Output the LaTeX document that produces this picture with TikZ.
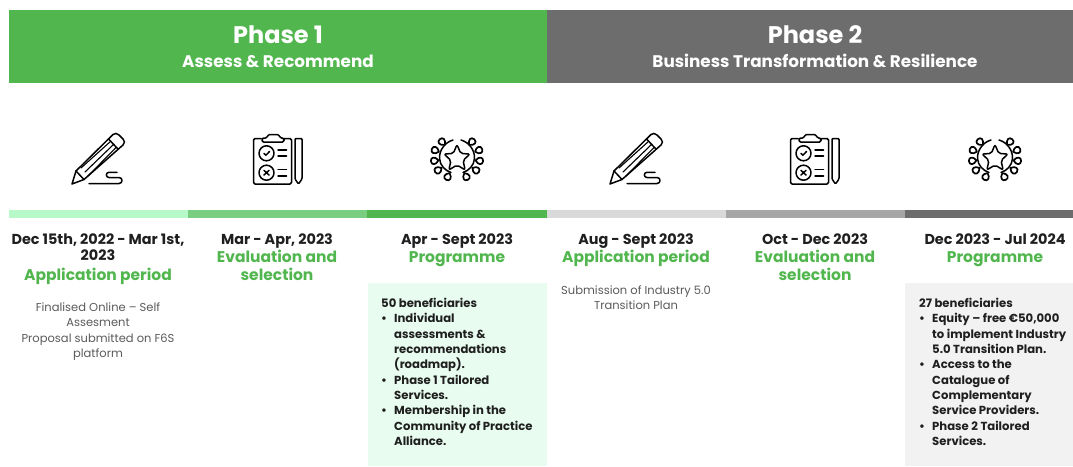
\documentclass[tikz,border=0pt]{standalone}
\usepackage{fontspec}
\setmainfont{Poppins}
\definecolor{gA}{HTML}{52B64F}
\definecolor{grA}{HTML}{6D6D6D}
\definecolor{barA}{HTML}{B7F9C8}
\definecolor{barB}{HTML}{79CE82}
\definecolor{barD}{HTML}{D9D9D9}
\definecolor{barE}{HTML}{A6A6A6}
\definecolor{panelG}{HTML}{E8FCF0}
\definecolor{panelK}{HTML}{F2F2F2}
\definecolor{inkB}{HTML}{1F1F1F}
\definecolor{txtG}{HTML}{5A5A5A}
\newcommand{\bul}{\makebox[13pt][l]{•}}
\tikzset{
  x=1pt,y=-1pt,
  block/.style={anchor=north west,inner sep=0pt,outer sep=0pt,draw=none},
  phasetitle/.style={text=white,font=\fontsize{24}{27}\selectfont\bfseries,inner sep=0pt},
  phasesub/.style={text=white,font=\fontsize{16.8}{20}\selectfont\bfseries,inner sep=0pt},
  datelab/.style={text=inkB,font=\fontsize{14.4}{16.5}\selectfont\bfseries,align=center,inner sep=0pt,anchor=north},
  stagelab/.style={text=gA,font=\fontsize{15.5}{18}\selectfont\bfseries,align=center,inner sep=0pt,anchor=north},
  bodylab/.style={text=txtG,font=\fontsize{11.5}{15.3}\selectfont,align=center,inner sep=0pt,anchor=north},
  panellab/.style={text=inkB,font=\fontsize{11.65}{15.35}\selectfont\bfseries,align=left,inner sep=0pt,anchor=north west},
  icon/.style={line width=1.5pt,draw=black,line join=round,line cap=round},
  pencilicon/.pic={
    \draw[icon] (-26,24) -- (-22,11) -- (15,-25.5) .. controls (17,-27) and (19,-27) .. (21,-25) -- (25,-21) .. controls (27,-19) and (27,-17) .. (25,-15) -- (-14,19.5) -- cycle;
    \draw[icon] (10.5,-21) -- (20,-11);
    \draw[icon] (-22,11) -- (-14,19.5);
    \draw[icon,line width=1.1pt] (-17,8) -- (13,-19) (-13,12) -- (15.5,-15.5) (-10,16) -- (18,-12.5);
    \draw[icon] (-9,23.5) -- (21,23.5) .. controls (25,23.5) and (25,17.5) .. (21,17.5) -- (11,17.5) .. controls (7.5,17.5) and (7.5,12.3) .. (11,12.3) -- (19,12.3);
  },
  clipicon/.pic={
    \draw[icon,rounded corners=1.5pt] (-16,-21.5) -- (-23.5,-21.5) -- (-23.5,24) -- (14.5,24) -- (14.5,-21.5) -- (7,-21.5);
    \draw[icon,fill=white,rounded corners=1.5pt] (-15,-18) -- (-15,-22) -- (-10,-22) -- (-9,-25.5) -- (2,-25.5) -- (3,-22) -- (7,-22) -- (7,-18) -- cycle;
    \draw[icon] (-10.5,-6.7) circle[radius=7.5] (-10.5,12.7) circle[radius=7.5];
    \draw[icon] (-13,-6.5) -- (-11,-4.8) -- (-7.5,-8.5);
    \draw[icon] (-13,10.4) -- (-8,15) (-8,10.4) -- (-13,15);
    \draw[icon] (1,-10) -- (9.5,-10) (1,-4) -- (9.5,-4) (1,9.3) -- (9.5,9.3) (1,16) -- (9.5,16);
    \draw[icon,rounded corners=1pt] (18,-21.5) -- (25,-21.5) -- (25,19) -- (21.5,24) -- (18,19) -- cycle;
  },
  laurelicon/.pic={
    \draw[icon,rounded corners=2pt] (0,-14) -- (3.7,-5) -- (13,-4.5) -- (6,2) -- (8.2,11.5) -- (0,6.5) -- (-8.2,11.5) -- (-6,2) -- (-13,-4.5) -- (-3.7,-5) -- cycle;
    \draw[icon] (-4,-18.5) .. controls (-13,-16) and (-18,-7) .. (-17.5,0) .. controls (-17,7) and (-12,12) .. (-6,14);
    \draw[icon] (4,-18.5) .. controls (13,-16) and (18,-7) .. (17.5,0) .. controls (17,7) and (12,12) .. (6,14);
    \foreach \lx/\ly in {-15/-16.7,-22/-8.3,-22.7/2.3,-19/11.7,-9.3/18.3,15/-16.7,22/-8.3,22.7/2.3,19/11.7,9.3/18.3}
      \draw[icon,line width=1.7pt,shift={(\lx,\ly)},rotate={atan2(0-(\ly),\lx)}] (-4.2,0) .. controls (-1,-4.8) and (3.4,-4) .. (3.4,0) .. controls (3.4,4) and (-1,4.8) .. (-4.2,0) -- cycle;
  }
}
\begin{document}
\begin{tikzpicture}
\useasboundingbox (0,0) rectangle (1073,466);
% header
\node[block,fill=gA,minimum width=538pt,minimum height=73pt] (phaseOne) at (9,10) {};
\node[block,fill=grA,minimum width=526pt,minimum height=73pt] (phaseTwo) at (547,10) {};
\node[phasetitle] (phaseOneT) at (278,35) {Phase 1};
\node[phasesub] (phaseOneS) at (278,61) {Assess \& Recommend};
\node[phasetitle] (phaseTwoT) at (815,35) {Phase 2};
\node[phasesub] (phaseTwoS) at (815,61) {Business Transformation \& Resilience};
% icons
\pic (iconA) at (98,160) {pencilicon};
\pic (iconB) at (277,160) {clipicon};
\pic (iconC) at (457,158.5) {laurelicon};
\pic (iconD) at (636,160) {pencilicon};
\pic (iconE) at (814,160) {clipicon};
\pic (iconF) at (995,158.5) {laurelicon};
% bars
\node[block,fill=barA,minimum width=179pt,minimum height=8pt] (barOne) at (9,210) {};
\node[block,fill=barB,minimum width=179pt,minimum height=8pt] (barTwo) at (188,210) {};
\node[block,fill=gA,minimum width=180pt,minimum height=8pt] (barThree) at (367,210) {};
\node[block,fill=barD,minimum width=179pt,minimum height=8pt] (barFour) at (547,210) {};
\node[block,fill=barE,minimum width=179pt,minimum height=8pt] (barFive) at (726,210) {};
\node[block,fill=grA,minimum width=168pt,minimum height=8pt] (barSix) at (905,210) {};
% panels
\node[block,fill=panelG,minimum width=179pt,minimum height=183pt] (panelOne) at (368,283) {};
\node[block,fill=panelK,minimum width=168pt,minimum height=183pt] (panelTwo) at (905,283) {};
% dates
\node[datelab] (dateA) at (98,233.5) {Dec 15th, 2022 - Mar 1st,\\2023};
\node[datelab] (dateB) at (277,233.5) {Mar - Apr, 2023};
\node[datelab] (dateC) at (457,233.5) {Apr - Sept 2023};
\node[datelab] (dateD) at (636,233.5) {Aug - Sept 2023};
\node[datelab] (dateE) at (815,233.5) {Oct - Dec 2023};
\node[datelab] (dateF) at (995,233.5) {Dec 2023 - Jul 2024};
% stages
\node[stagelab] (stageA) at (98,267.5) {Application period};
\node[stagelab] (stageB) at (277,249.5) {Evaluation and\\selection};
\node[stagelab] (stageC) at (457,251.5) {Programme};
\node[stagelab] (stageD) at (636,250) {Application period};
\node[stagelab] (stageE) at (815,249.5) {Evaluation and\\selection};
\node[stagelab] (stageF) at (995,251.5) {Programme};
% bodies
\node[bodylab] (bodyA) at (98,302.5) {Finalised Online – Self\\Assesment\\Proposal submitted on F6S\\platform};
\node[bodylab] (bodyD) at (636,285.5) {Submission of Industry 5.0\\Transition Plan};
\node[panellab] (listA) at (381,298) {50 beneficiaries\\
\bul Individual\\
\hspace*{13pt}assessments \&\\
\hspace*{13pt}recommendations\\
\hspace*{13pt}(roadmap).\\
\bul Phase 1 Tailored\\
\hspace*{13pt}Services.\\
\bul Membership in the\\
\hspace*{13pt}Community of Practice\\
\hspace*{13pt}Alliance.};
\node[panellab] (listB) at (919,298) {27 beneficiaries\\
\bul Equity – free €50,000\\
\hspace*{13pt}to implement Industry\\
\hspace*{13pt}5.0 Transition Plan.\\
\bul Access to the\\
\hspace*{13pt}Catalogue of\\
\hspace*{13pt}Complementary\\
\hspace*{13pt}Service Providers.\\
\bul Phase 2 Tailored\\
\hspace*{13pt}Services.};
\end{tikzpicture}
\end{document}
